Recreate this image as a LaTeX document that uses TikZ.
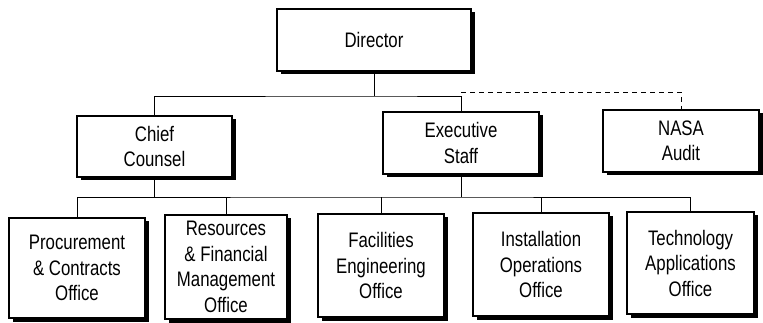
\documentclass[tikz,border=0pt]{standalone}
\usepackage{fontspec}
\setmainfont{Liberation Sans}[FakeStretch=0.8]
\usepackage{tikz}
\usetikzlibrary{shadows}

\begin{document}
\begin{tikzpicture}[x=1pt,y=-1pt,line width=0.8pt]
\tikzstyle{unit}=[draw=black,fill=white,line width=1.2pt,align=center,inner sep=2pt,
                  drop shadow={shadow xshift=3.5pt,shadow yshift=-3.5pt,fill=black,opacity=1}]
\tikzset{font=\fontsize{21}{25.5}\selectfont}
\useasboundingbox (0,0) rectangle (763,323);

        % top level
        \node[unit,minimum width=194pt,minimum height=62pt]     (dir) at (374,40)    {Director};

        % second level
        \node[unit,minimum width=155pt,minimum height=61pt]     (cc)  at (154.5,146.5) {Chief\\Counsel};
        \node[unit,minimum width=156pt,minimum height=62pt]     (es)  at (461,143)   {Executive\\Staff};
        \node[unit,minimum width=156pt,minimum height=62pt]     (na)  at (681,141)   {NASA\\Audit};

        % offices
        \node[unit,minimum width=136pt,minimum height=100pt]    (o1)  at (77,268)    {Procurement\\\& Contracts\\Office};
        \node[unit,minimum width=122pt,minimum height=104pt]    (o2)  at (226,267)   {Resources\\\& Financial\\Management\\Office};
        \node[unit,minimum width=126pt,minimum height=103pt]    (o3)  at (381,265.5) {Facilities\\Engineering\\Office};
        \node[unit,minimum width=136pt,minimum height=103pt]    (o4)  at (541,264.5) {Installation\\Operations\\Office};
        \node[unit,minimum width=127pt,minimum height=102pt]    (o5)  at (690.5,263) {Technology\\Applications\\Office};

        \coordinate (topbus) at (374,96);
        \coordinate (dashbus) at (463,92);
        \coordinate (lowbus) at (380,197);

        \draw (dir.south) -- (topbus);
        \draw (cc.north) |- (topbus) -| (es.north);
        \draw[dashed,dash pattern=on 5pt off 4pt] (es.north |- dashbus) -| (na.north);

        \draw (cc.south) -- (cc.south |- lowbus);
        \draw (es.south) -- (es.south |- lowbus);
        \draw (o1.north) |- (lowbus) -| (o5.north);
        \draw (o2.north) -- (o2.north |- lowbus);
        \draw (o3.north) -- (o3.north |- lowbus);
        \draw (o4.north) -- (o4.north |- lowbus);
        
\end{tikzpicture}
\end{document}
